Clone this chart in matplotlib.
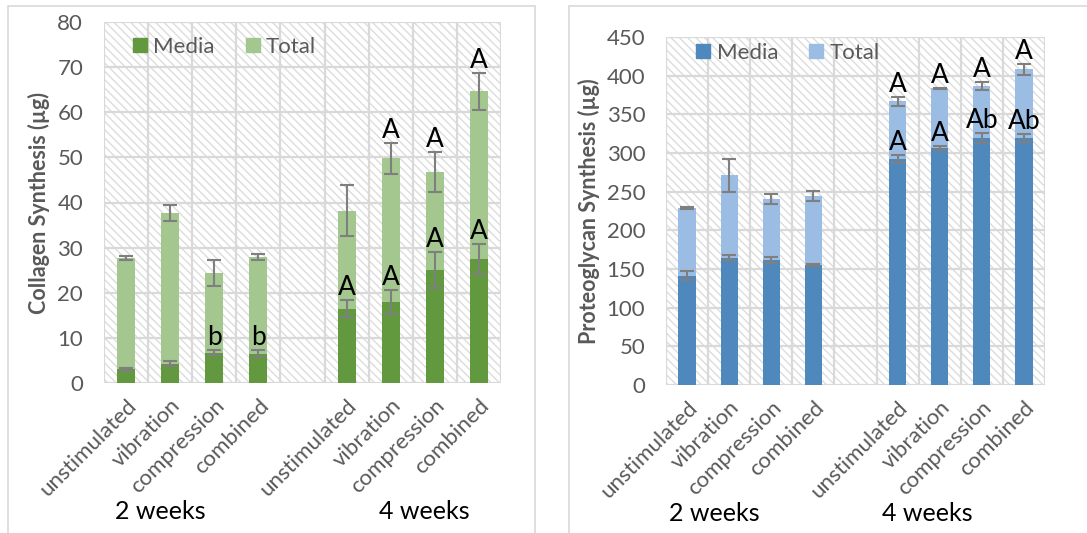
import numpy as np
import matplotlib
matplotlib.use("Agg")
import matplotlib.pyplot as plt
from matplotlib.patches import Rectangle
from matplotlib.lines import Line2D

plt.rcParams['font.family'] = ['Lato', 'DejaVu Sans']
plt.rcParams['hatch.linewidth'] = 1.0

# categories (slot 4 is the empty gap between the two time points)
categories = ['unstimulated', 'vibration', 'compression', 'combined',
              'unstimulated', 'vibration', 'compression', 'combined']
positions = [0, 1, 2, 3, 5, 6, 7, 8]
groups = ['2 weeks', '4 weeks']

# collagen (ug)
col_media = [3.0, 4.3, 6.7, 6.5, 16.5, 17.9, 25.1, 27.5]
col_media_err = [0.3, 0.6, 0.55, 0.8, 1.85, 2.6, 4.0, 3.3]
col_total = [27.7, 37.7, 24.4, 27.9, 38.2, 49.8, 46.8, 64.6]
col_total_err = [0.4, 1.8, 2.8, 0.6, 5.6, 3.4, 4.4, 4.0]
col_media_lbl = ['', '', 'b', 'b', 'A', 'A', 'A', 'A']
col_total_lbl = ['', '', '', '', '', 'A', 'A', 'A']

# proteoglycan (ug)
pg_media = [141, 164.5, 161.5, 155, 292, 306.5, 319.5, 319.5]
pg_media_err = [5.8, 3.4, 4.0, 1.7, 5.0, 3.0, 6.5, 5.0]
pg_total = [229, 271, 240, 244, 367, 383.5, 387, 408]
pg_total_err = [1.0, 21, 6.5, 6.5, 5.6, 1.0, 5.0, 6.5]
pg_media_lbl = ['', '', '', '', 'A', 'A', 'Ab', 'Ab']
pg_total_lbl = ['', '', '', '', 'A', 'A', 'A', 'A']

GRID = '#D9D9D9'
TXT = '#595959'
ERR = '#7F7F7F'


def draw_panel(ax, media, media_err, total, total_err, media_lbl, total_lbl,
               c_media, c_total, ymax, ystep, ylabel, group_x, group_y, leg_xy):
    ax.set_xlim(-0.5, 8.5)
    ax.set_ylim(0, ymax)
    # hatched plot background
    ax.patch.set_facecolor('white')
    ax.patch.set_edgecolor('#DCDCDC')
    ax.patch.set_hatch('\\' * 4)
    ax.set_axisbelow(True)

    for y in np.arange(0, ymax + 0.1, ystep):
        ax.axhline(y, color=GRID, lw=1.6, zorder=1)
    for x in np.arange(-0.5, 9, 1):
        ax.axvline(x, color=GRID, lw=1.6, zorder=1)
    for s in ax.spines.values():
        s.set_visible(False)

    w = 0.41
    ax.bar(positions, total, width=w, color=c_total, zorder=2)
    ax.bar(positions, media, width=w, color=c_media, zorder=3)
    ekw = dict(fmt='none', ecolor=ERR, elinewidth=1.5, capsize=5, capthick=1.5, zorder=4)
    ax.errorbar(positions, total, yerr=total_err, **ekw)
    ax.errorbar(positions, media, yerr=media_err, **ekw)

    for x, v, e, t in zip(positions, media, media_err, media_lbl):
        if t:
            ax.annotate(t, (x, v + e), xytext=(0, 0), textcoords='offset points',
                        ha='center', va='bottom', fontsize=19, color='black', zorder=5)
    for x, v, e, t in zip(positions, total, total_err, total_lbl):
        if t:
            ax.annotate(t, (x, v + e), xytext=(0, 0), textcoords='offset points',
                        ha='center', va='bottom', fontsize=19, color='black', zorder=5)

    ax.set_yticks(np.arange(0, ymax + 0.1, ystep))
    ax.tick_params(axis='y', length=0, labelsize=16, labelcolor=TXT, pad=15)
    ax.set_xticks(positions)
    ax.set_xticklabels(categories, rotation=45, ha='right', va='top',
                       rotation_mode='anchor', fontsize=16, color=TXT)
    ax.tick_params(axis='x', length=0, pad=9)
    ax.set_ylabel(ylabel, fontsize=15.5, fontweight='bold', color=TXT, labelpad=5)

    for gx, g in zip(group_x, groups):
        ax.text(gx, group_y, g, transform=ax.get_xaxis_transform(),
                ha='center', va='center', fontsize=18, color='black')

    handles = [Line2D([], [], marker='s', ls='none', ms=10, color=c_media),
               Line2D([], [], marker='s', ls='none', ms=10, color=c_total)]
    ax.legend(handles, ['Media', 'Total'], ncol=2, frameon=False, loc='center left',
              bbox_to_anchor=leg_xy, borderaxespad=0, borderpad=0, fontsize=16,
              labelcolor=TXT, handletextpad=0.1, columnspacing=1.2, handlelength=1.0)


fig = plt.figure(figsize=(10.87, 5.33), dpi=100)

# chart area borders
fig.patches.append(Rectangle((8 / 1087, -0.01), 527 / 1087, 1 - 6 / 533 + 0.01,
                             transform=fig.transFigure, fill=False, ec=GRID, lw=1.2))
fig.patches.append(Rectangle((569 / 1087, -0.01), 0.6, 1 - 6 / 533 + 0.01,
                             transform=fig.transFigure, fill=False, ec=GRID, lw=1.2))

ax1 = fig.add_axes([104 / 1087, 1 - 383 / 533, 397 / 1087, 361 / 533])
draw_panel(ax1, col_media, col_media_err, col_total, col_total_err,
           col_media_lbl, col_total_lbl, '#62993E', '#A3C78F', 80, 10,
           'Collagen Synthesis (µg)', [0.77, 6.77], -0.357, (0.063, 0.931))

ax2 = fig.add_axes([666 / 1087, 1 - 385 / 533, 379 / 1087, 348 / 533])
draw_panel(ax2, pg_media, pg_media_err, pg_total, pg_total_err,
           pg_media_lbl, pg_total_lbl, '#4F88BD', '#9BBDE3', 450, 50,
           'Proteoglycan Synthesis (µg)', [0.64, 5.71], -0.368, (0.069, 0.954))

fig.savefig('out.png', dpi=100)
